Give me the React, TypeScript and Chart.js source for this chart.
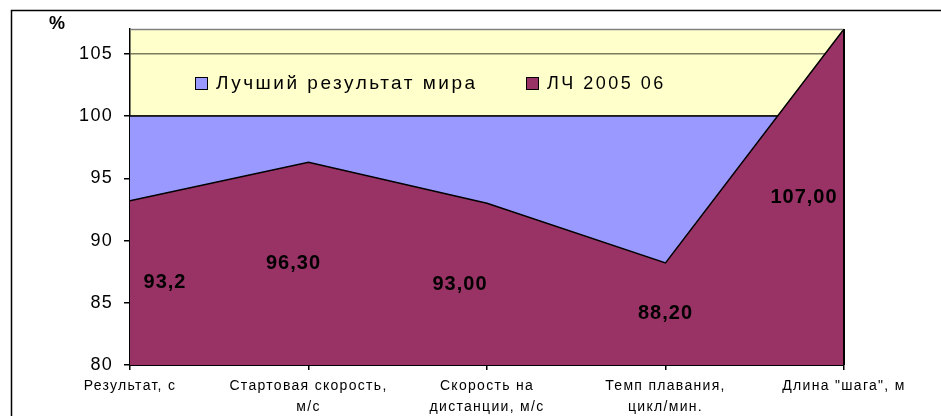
import React, { useEffect, useRef } from "react";
import { Chart, registerables } from "chart.js";

Chart.register(...registerables);

const categories: string[][] = [
  ["Результат, с"],
  ["Стартовая скорость,", "м/с"],
  ["Скорость на", "дистанции, м/с"],
  ["Темп плавания,", "цикл/мин."],
  ['Длина "шага", м'],
];
const worldBest: number[] = [100, 100, 100, 100, 100];
const lch: number[] = [93.2, 96.3, 93.0, 88.2, 107.0];
const lchLabels: string[] = ["93,2", "96,30", "93,00", "88,20", "107,00"];
const seriesNames: string[] = ["Лучший результат мира", "ЛЧ 2005 06"];
const yTicks: number[] = [80, 85, 90, 95, 100, 105];
const yMin = 80;
const yMax = 107;

const FONT = "'Liberation Sans', Arial, sans-serif";
const BLUE = "#9999FF";
const PURPLE = "#993366";
const YELLOW = "#FFFFCC";

// pixel nudges of the value labels (Excel placement)
const labelDx = [35, -15, -27, 0, -40];

const decorPlugin = {
  id: "decor",
  beforeDraw(chart: any) {
    const { ctx, chartArea } = chart;
    ctx.save();
    ctx.fillStyle = "#ffffff";
    ctx.fillRect(0, 0, chart.width, chart.height);
    ctx.fillStyle = YELLOW;
    ctx.fillRect(chartArea.left, chartArea.top, chartArea.right - chartArea.left, chartArea.bottom - chartArea.top);
    ctx.restore();
    (ctx as any).letterSpacing = "1.3px";
  },
  afterDatasetsDraw(chart: any) {
    const { ctx, chartArea, scales } = chart;
    const y = scales.y;
    ctx.save();
    (ctx as any).letterSpacing = "0px";
    // plot top border
    ctx.strokeStyle = "#808080";
    ctx.lineWidth = 1.5;
    ctx.beginPath();
    ctx.moveTo(chartArea.left, chartArea.top + 0.5);
    ctx.lineTo(chartArea.right, chartArea.top + 0.5);
    ctx.stroke();
    // right edge of area series
    ctx.strokeStyle = "#000";
    ctx.lineWidth = 2;
    ctx.beginPath();
    ctx.moveTo(chartArea.right, y.getPixelForValue(lch[lch.length - 1]));
    ctx.lineTo(chartArea.right, chartArea.bottom);
    ctx.stroke();
    ctx.restore();
  },
  afterDraw(chart: any) {
    const { ctx, chartArea, scales } = chart;
    const x = scales.x;
    const y = scales.y;
    ctx.save();
    // value labels
    ctx.fillStyle = "#000";
    ctx.font = `bold 20px ${FONT}`;
    (ctx as any).letterSpacing = "1px";
    ctx.textAlign = "center";
    ctx.textBaseline = "middle";
    lch.forEach((v, i) => {
      const px = x.getPixelForValue(i) + labelDx[i];
      const py = (y.getPixelForValue(v) + chartArea.bottom) / 2;
      ctx.fillText(lchLabels[i], px, py);
    });
    // legend
    (ctx as any).letterSpacing = "2.5px";
    ctx.textAlign = "left";
    const legend = [
      { x: 195, color: BLUE, text: seriesNames[0], size: 19 },
      { x: 526, color: PURPLE, text: seriesNames[1], size: 18 },
    ];
    legend.forEach((l) => {
      ctx.fillStyle = l.color;
      ctx.fillRect(l.x, 77, 13, 13);
      ctx.strokeStyle = "#000";
      ctx.lineWidth = 1;
      ctx.strokeRect(l.x + 0.5, 77.5, 12, 12);
      ctx.fillStyle = "#000";
      ctx.font = `${l.size}px ${FONT}`;
      ctx.fillText(l.text, l.x + 21, 84);
    });
    // % label
    ctx.font = `bold 18px ${FONT}`;
    (ctx as any).letterSpacing = "0px";
    ctx.textAlign = "center";
    ctx.fillText("%", 57, 24);
    // outer border
    ctx.strokeStyle = "#000";
    ctx.lineWidth = 1.5;
    ctx.strokeRect(11.5, 10.5, 3000, 3000);
    ctx.restore();
  },
};

export default function App() {
  const ref = useRef<HTMLCanvasElement | null>(null);
  useEffect(() => {
    if (!ref.current) return;
    Chart.defaults.font.family = FONT;
    const chart = new Chart(ref.current, {
      type: "line",
      data: {
        labels: categories,
        datasets: [
          {
            label: seriesNames[0],
            data: worldBest,
            backgroundColor: BLUE,
            borderColor: "#000",
            borderWidth: 1.5,
            fill: "start",
            pointRadius: 0,
            tension: 0,
            order: 2,
          },
          {
            label: seriesNames[1],
            data: lch,
            backgroundColor: PURPLE,
            borderColor: "#000",
            borderWidth: 1.5,
            fill: "start",
            pointRadius: 0,
            tension: 0,
            order: 1,
          },
        ],
      },
      options: {
        responsive: false,
        animation: false,
        devicePixelRatio: 1,
        layout: { padding: { left: 0, top: 29, right: 97, bottom: 0 } },
        plugins: { legend: { display: false }, tooltip: { enabled: false } },
        scales: {
          x: {
            type: "category",
            offset: false,
            grid: { drawOnChartArea: false, drawTicks: true, tickLength: 5, color: "#000", lineWidth: 1.5 },
            border: { display: true, color: "#000", width: 2 },
            ticks: {
              color: "#000",
              font: { size: 14, lineHeight: 1.5, family: FONT },
              padding: 6,
              maxRotation: 0,
              autoSkip: false,
            },
            afterFit(scale: any) {
              scale.height = 51;
            },
          },
          y: {
            min: yMin,
            max: yMax,
            grid: { color: "#7c7c5e", lineWidth: 1.5, tickColor: "#000", tickLength: 6 },
            border: { display: true, color: "#000", width: 1.5 },
            ticks: {
              color: "#000",
              font: { size: 18, family: FONT },
              padding: 11,
              stepSize: 5,
            },
            afterBuildTicks(scale: any) {
              scale.ticks = yTicks.map((v) => ({ value: v }));
            },
            afterFit(scale: any) {
              scale.width = 130;
            },
          },
        },
      },
      plugins: [decorPlugin],
    } as any);
    return () => chart.destroy();
  }, []);
  return (
    <div style={{ position: "fixed", left: 0, top: 0, width: 941, height: 416 }}>
      <canvas ref={ref} width={941} height={416} style={{ display: "block" }} />
    </div>
  );
}
